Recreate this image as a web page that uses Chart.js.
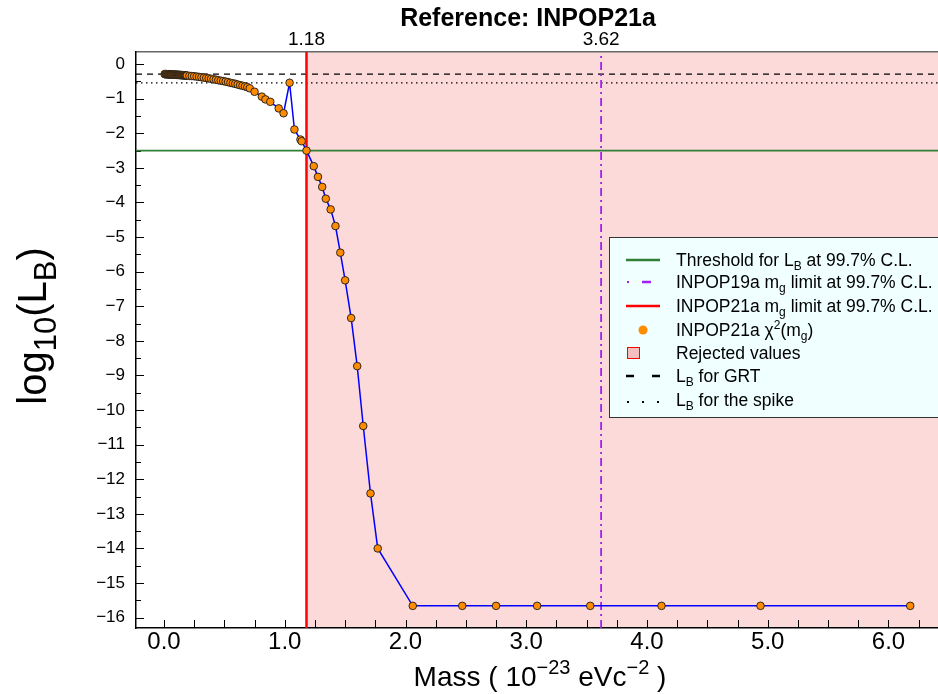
<!DOCTYPE html>
<html><head><meta charset="utf-8">
<script src="https://cdn.jsdelivr.net/npm/chart.js@4.4.1/dist/chart.umd.min.js"></script>
<style>html,body{margin:0;padding:0;background:#fff;}</style>
</head><body>
<canvas id="c" width="938" height="694"></canvas>
<script>
// ---- data ----
const massValues = [
  0.005,0.01,0.015,0.02,0.025,0.03,0.035,0.04,0.045,0.05,0.055,0.06,0.065,0.07,0.075,0.08,0.085,0.09,0.095,0.10,
  0.105,0.11,0.115,0.12,0.125,0.13,0.135,0.14,0.145,0.15,0.155,0.16,0.165,0.17,0.175,0.18,0.185,0.19,
  0.21,0.23,0.25,0.27,0.29,0.31,0.33,0.35,0.37,0.39,0.41,0.43,0.45,0.47,0.49,0.51,0.53,0.55,0.57,0.59,0.61,0.63,0.65,0.67,0.69,0.71,
  0.75,0.81,0.84,0.88,0.95,0.99,1.04,1.08,1.13,1.14,1.18,1.24,1.275,1.31,1.34,1.38,1.42,1.46,1.50,1.55,1.60,1.65,1.71,1.77,
  2.06,2.47,2.75,3.09,3.53,4.12,4.94,6.18
];
const logLB = [
  -0.29,-0.29,-0.29,-0.29,-0.29,-0.295,-0.295,-0.295,-0.295,-0.30,-0.30,-0.30,-0.30,-0.30,-0.30,-0.305,-0.305,-0.305,-0.305,-0.31,
  -0.31,-0.31,-0.31,-0.31,-0.315,-0.315,-0.315,-0.315,-0.32,-0.32,-0.32,-0.32,-0.325,-0.325,-0.325,-0.33,-0.33,-0.33,
  -0.34,-0.345,-0.35,-0.36,-0.37,-0.38,-0.39,-0.40,-0.41,-0.425,-0.44,-0.45,-0.465,-0.48,-0.49,-0.505,-0.52,-0.54,-0.555,-0.57,-0.59,-0.61,-0.625,-0.645,-0.665,-0.70,
  -0.80,-0.94,-1.02,-1.09,-1.28,-1.42,-0.54,-1.89,-2.18,-2.23,-2.50,-2.95,-3.26,-3.55,-3.89,-4.20,-4.68,-5.45,-6.25,-7.34,-8.73,-10.46,-12.41,-14.00,
  -15.66,-15.66,-15.66,-15.66,-15.66,-15.66,-15.66,-15.66
];
const xTickValues = [0,1,2,3,4,5,6];
const yTickValues = [0,-1,-2,-3,-4,-5,-6,-7,-8,-9,-10,-11,-12,-13,-14,-15,-16];
const topTickValues = [1.18, 3.62];
const thresholdLB = -2.5;
const grtLB = -0.29;
const spikeLB = -0.54;
const limit21a = 1.18;
const limit19a = 3.62;
const xRange = [-0.232, 6.41];
const yRange = [-16.3, 0.35];

const FONT = "'Liberation Sans', Arial, sans-serif";

function drawRich(ctx, parts, x, y, size, align, weight, subScale) {
  weight = weight || 'normal';
  subScale = subScale || 0.7;
  const fontFor = p => `${weight} ${p.sub || p.sup ? Math.round(size * subScale) : size}px ${FONT}`;
  let total = 0;
  parts.forEach(p => { ctx.font = fontFor(p); total += ctx.measureText(p.t).width; });
  let cx = align === 'center' ? x - total / 2 : x;
  ctx.textBaseline = 'alphabetic';
  ctx.textAlign = 'left';
  parts.forEach(p => {
    ctx.font = fontFor(p);
    let dy = 0;
    if (p.sub) dy = size * 0.25;
    if (p.sup) dy = -size * 0.42;
    ctx.fillText(p.t, cx, y + dy);
    cx += ctx.measureText(p.t).width;
  });
}

const decorPlugin = {
  id: 'decor',
  beforeDraw(chart) {
    const {ctx, chartArea: a, scales} = chart;
    const x0 = scales.x.getPixelForValue(limit21a);
    ctx.save();
    ctx.fillStyle = '#FDDADA';
    ctx.fillRect(x0, a.top, a.right - x0, a.bottom - a.top);
    ctx.restore();
  },
  beforeDatasetsDraw(chart) {
    const {ctx, chartArea: a, scales} = chart;
    ctx.save();
    ctx.strokeStyle = '#000';
    ctx.lineWidth = 1;
    for (let v = 0; v <= 6.3; v += 0.25) {
      const px = Math.round(scales.x.getPixelForValue(v)) + 0.5;
      ctx.beginPath(); ctx.moveTo(px, a.bottom); ctx.lineTo(px, a.bottom - 8); ctx.stroke();
    }
    for (let k = 0; k <= 32; k++) {
      const v = -k / 2;
      const py = Math.round(scales.y.getPixelForValue(v)) + 0.5;
      const len = k % 2 === 0 ? 8 : 5;
      ctx.beginPath(); ctx.moveTo(a.left, py); ctx.lineTo(a.left + len, py); ctx.stroke();
    }
    ctx.restore();
  },
  afterDraw(chart) {
    const {ctx} = chart;
    ctx.save();
    ctx.fillStyle = '#000';
    drawRich(ctx, [{t: 'Reference: INPOP21a'}], 528, 26, 25, 'center', 'bold');
    drawRich(ctx, [{t: 'Mass ( 10'}, {t: '\u221223', sup: true}, {t: ' eVc'}, {t: '\u22122', sup: true}, {t: ' )'}], 540, 686, 28, 'center');
    ctx.save();
    ctx.translate(46, 326);
    ctx.rotate(-Math.PI / 2);
    drawRich(ctx, [{t: 'log'}, {t: '10', sub: true}, {t: '(L'}, {t: 'B', sub: true}, {t: ')'}], 0, 0, 40, 'center', 'normal', 0.78);
    ctx.restore();

    const lx = 609, ly = 237, lw = 340, lh = 180;
    ctx.fillStyle = '#F0FFFF';
    ctx.fillRect(lx, ly, lw, lh);
    ctx.strokeStyle = '#333';
    ctx.lineWidth = 1;
    ctx.strokeRect(lx + 0.5, ly + 0.5, lw, lh);

    const rows = [260, 282, 306, 330, 353, 376, 400];
    const tx = 676, fs = 17.5;
    const texts = [
      [{t: 'Threshold for L'}, {t: 'B', sub: true}, {t: ' at 99.7% C.L.'}],
      [{t: 'INPOP19a m'}, {t: 'g', sub: true}, {t: ' limit at 99.7% C.L.'}],
      [{t: 'INPOP21a m'}, {t: 'g', sub: true}, {t: ' limit at 99.7% C.L.'}],
      [{t: 'INPOP21a \u03C7'}, {t: '2', sup: true}, {t: '(m'}, {t: 'g', sub: true}, {t: ')'}],
      [{t: 'Rejected values'}],
      [{t: 'L'}, {t: 'B', sub: true}, {t: ' for GRT'}],
      [{t: 'L'}, {t: 'B', sub: true}, {t: ' for the spike'}]
    ];
    texts.forEach((p, i) => { ctx.fillStyle = '#000'; drawRich(ctx, p, tx, rows[i] + 6, fs, 'left'); });

    ctx.lineCap = 'butt';
    const line = (x1, x2, y, c, w) => { ctx.strokeStyle = c; ctx.lineWidth = w; ctx.beginPath(); ctx.moveTo(x1, y); ctx.lineTo(x2, y); ctx.stroke(); };
    line(626, 660, rows[0], '#2F7F34', 2.5);
    ctx.fillStyle = '#A020F0';
    ctx.fillRect(627, rows[1] - 1, 2, 2);
    line(642, 651, rows[1], '#A020F0', 2.5);
    line(626, 660, rows[2], '#FF0000', 2.5);
    ctx.fillStyle = '#FF8C00';
    ctx.beginPath(); ctx.arc(643, rows[3], 4.5, 0, Math.PI * 2); ctx.fill();
    ctx.fillStyle = '#F5BFBF';
    ctx.fillRect(627, rows[4] - 6, 12, 11);
    ctx.strokeStyle = '#FF0000'; ctx.lineWidth = 1;
    ctx.strokeRect(627.5, rows[4] - 5.5, 12, 11);
    line(626, 634, rows[5], '#000', 2.5);
    line(652, 660, rows[5], '#000', 2.5);
    ctx.fillStyle = '#000';
    [628, 643, 658].forEach(x => ctx.fillRect(x - 1, rows[6] + 1, 2, 2));
    ctx.restore();
  }
};

const hLine = (v) => [{x: xRange[0], y: v}, {x: xRange[1], y: v}];
const vLine = (v) => [{x: v, y: yRange[0]}, {x: v, y: yRange[1]}];
const noPad = s => { s.paddingLeft = 0; s.paddingRight = 0; s.paddingTop = 0; s.paddingBottom = 0; };

new Chart(document.getElementById('c'), {
  type: 'scatter',
  data: {
    datasets: [
      {
        label: 'INPOP21a chi2(mg)',
        data: massValues.map((m, i) => ({x: m, y: logLB[i]})),
        showLine: true,
        borderColor: '#0000FF',
        borderWidth: 1.5,
        pointRadius: 3.8,
        pointHoverRadius: 3.8,
        pointBackgroundColor: '#FF8C00',
        pointBorderColor: '#1a1a1a',
        pointBorderWidth: 0.9
      },
      {label: 'INPOP21a limit', data: vLine(limit21a), showLine: true, borderColor: '#FF0000', borderWidth: 2.5, pointRadius: 0},
      {label: 'INPOP19a limit', data: vLine(limit19a), showLine: true, borderColor: '#A020F0', borderWidth: 1.8, borderDash: [8, 4, 2, 4], pointRadius: 0},
      {label: 'Threshold', data: hLine(thresholdLB), showLine: true, borderColor: '#2F7F34', borderWidth: 1.8, pointRadius: 0},
      {label: 'GRT', data: hLine(grtLB), showLine: true, borderColor: '#000', borderWidth: 1.3, borderDash: [6, 5], pointRadius: 0},
      {label: 'Spike', data: hLine(spikeLB), showLine: true, borderColor: '#000', borderWidth: 1.3, borderDash: [1.5, 3.5], pointRadius: 0}
    ]
  },
  options: {
    responsive: false,
    devicePixelRatio: 1,
    animation: false,
    events: [],
    layout: {padding: 0, autoPadding: false},
    plugins: {legend: {display: false}, tooltip: {enabled: false}, title: {display: false}},
    scales: {
      x: {
        type: 'linear', position: 'bottom', min: xRange[0], max: xRange[1],
        afterBuildTicks: s => { s.ticks = xTickValues.map(v => ({value: v})); },
        afterFit: s => { s.height = 66; noPad(s); },
        ticks: {callback: v => Number(v).toFixed(1), font: {family: FONT, size: 24}, color: '#000', padding: 0, maxRotation: 0, autoSkip: false},
        grid: {drawOnChartArea: false, drawTicks: false},
        border: {display: true, color: '#000', width: 1.5}
      },
      x2: {
        type: 'linear', position: 'top', axis: 'x', min: xRange[0], max: xRange[1],
        afterBuildTicks: s => { s.ticks = topTickValues.map(v => ({value: v})); },
        afterFit: s => { s.height = 52; noPad(s); },
        ticks: {callback: v => Number(v).toFixed(2), font: {family: FONT, size: 19}, color: '#000', padding: 1, maxRotation: 0, autoSkip: false},
        grid: {drawOnChartArea: false, drawTicks: false},
        border: {display: true, color: '#666', width: 1.5}
      },
      y: {
        type: 'linear', position: 'left', min: yRange[0], max: yRange[1],
        afterBuildTicks: s => { s.ticks = yTickValues.map(v => ({value: v})); },
        afterFit: s => { s.width = 136; noPad(s); },
        ticks: {callback: v => v === 0 ? '0' : '\u2212' + Math.abs(v), font: {family: FONT, size: 17}, color: '#000', padding: 11, autoSkip: false},
        grid: {drawOnChartArea: false, drawTicks: false},
        border: {display: true, color: '#000', width: 1.5}
      }
    }
  },
  plugins: [decorPlugin]
});
</script>
</body></html>
